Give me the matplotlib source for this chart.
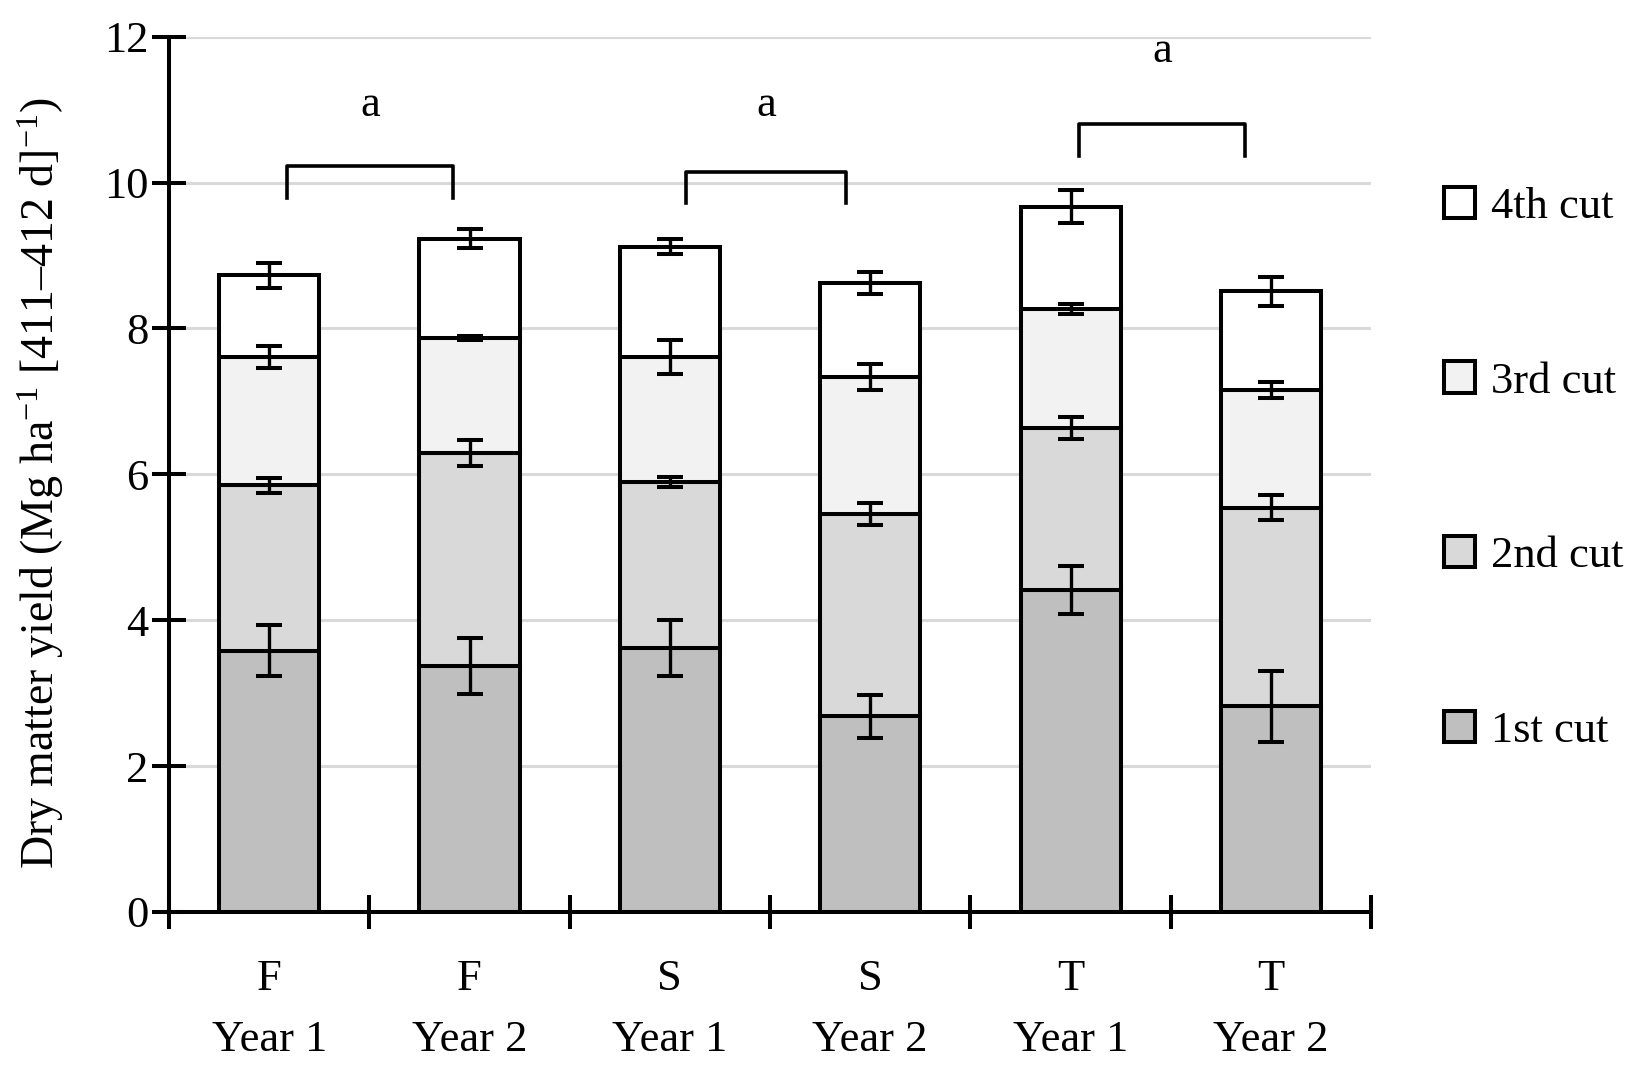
import matplotlib
matplotlib.use('Agg')
import numpy as np
import matplotlib.pyplot as plt
from matplotlib.patches import Patch

plt.rcParams['font.family'] = ['Liberation Serif', 'DejaVu Serif']
plt.rcParams['mathtext.fontset'] = 'custom'
plt.rcParams['mathtext.rm'] = 'Liberation Serif'
plt.rcParams['mathtext.it'] = 'Liberation Serif:italic'

# data (Mg/ha per cut, stacked)
treatments = ['F', 'F', 'S', 'S', 'T', 'T']
years = ['Year 1', 'Year 2', 'Year 1', 'Year 2', 'Year 1', 'Year 2']
cut_names = ['1st cut', '2nd cut', '3rd cut', '4th cut']
cut1 = [3.58, 3.37, 3.62, 2.68, 4.42, 2.82]
cut2 = [2.27, 2.92, 2.28, 2.77, 2.22, 2.72]
cut3 = [1.76, 1.58, 1.71, 1.88, 1.63, 1.61]
cut4 = [1.12, 1.36, 1.51, 1.29, 1.40, 1.36]
err1 = [0.35, 0.38, 0.38, 0.29, 0.33, 0.49]
err2 = [0.10, 0.18, 0.07, 0.15, 0.15, 0.17]
err3 = [0.15, 0.03, 0.23, 0.18, 0.07, 0.11]
err4 = [0.17, 0.13, 0.10, 0.15, 0.23, 0.20]
colors = ['#bfbfbf', '#d9d9d9', '#f2f2f2', '#ffffff']

# significance brackets
bracket_left = [0.09, 2.08, 4.04]
bracket_right = [0.92, 2.88, 4.87]
bracket_top = [10.22, 10.15, 10.80]
bracket_drop = 0.43
letters = ['a', 'a', 'a']
letter_y = [11.06, 11.06, 11.81]

FS = 32
LW = 2.9

fig = plt.figure(figsize=(16.5, 10.78), dpi=100)
ax = fig.add_axes([0.1024, 0.154, 0.7286, 0.812])

x = np.arange(len(treatments))
segs = [cut1, cut2, cut3, cut4]
errs = [err1, err2, err3, err4]
bottom = np.zeros(len(x))
for seg, err, col, name in zip(segs, errs, colors, cut_names):
    ax.bar(x, seg, 0.5, bottom=bottom, color=col, edgecolor='black',
           linewidth=LW, zorder=2, label=name)
    top = bottom + np.array(seg)
    ax.errorbar(x, top, yerr=err, fmt='none', ecolor='black', elinewidth=2.4,
                capsize=9.5, capthick=2.9, zorder=4)
    bottom = top

for l, r, t, s, yy in zip(bracket_left, bracket_right, bracket_top, letters, letter_y):
    ax.plot([l, l, r, r], [t - bracket_drop, t, t, t - bracket_drop],
            color='black', lw=2.6, zorder=5, clip_on=False)
    ax.text((l + r) / 2, yy, s, ha='center', va='center', fontsize=FS)

ax.set_xlim(-0.5, 5.5)
ax.set_ylim(0, 12)
ax.set_yticks(np.arange(0, 13, 2))
ax.yaxis.grid(True, color='#d9d9d9', lw=2.2, zorder=0)
ax.set_axisbelow(True)
ax.spines['top'].set_visible(False)
ax.spines['right'].set_visible(False)
ax.spines['left'].set_linewidth(LW)
ax.spines['bottom'].set_linewidth(LW)

ax.set_xticks(np.arange(-0.5, 6, 1))
ax.set_xticklabels([])
ax.set_xticks(x, minor=True)
ax.set_xticklabels([t + '\n' + y for t, y in zip(treatments, years)], minor=True,
                   linespacing=1.68)
ax.tick_params(axis='x', which='major', direction='inout', length=24, width=LW)
ax.tick_params(axis='x', which='minor', length=0, pad=34, labelsize=FS)
ax.tick_params(axis='y', direction='inout', length=24, width=LW, pad=3, labelsize=FS)

ax.set_ylabel('Dry matter yield (Mg ha$^{-1}$ [411\u2013412 d]$^{-1}$)', fontsize=33)
ax.yaxis.set_label_coords(-0.086, 0.49)

handles = [Patch(facecolor=c, edgecolor='black', linewidth=LW) for c in colors]
fig.legend(handles[::-1], cut_names[::-1], loc='center left',
           bbox_to_anchor=(0.851, 0.565), frameon=False, fontsize=FS,
           handlelength=0.7, handleheight=0.7, handletextpad=0.35,
           labelspacing=3.03)

fig.savefig('out.png', dpi=100)
